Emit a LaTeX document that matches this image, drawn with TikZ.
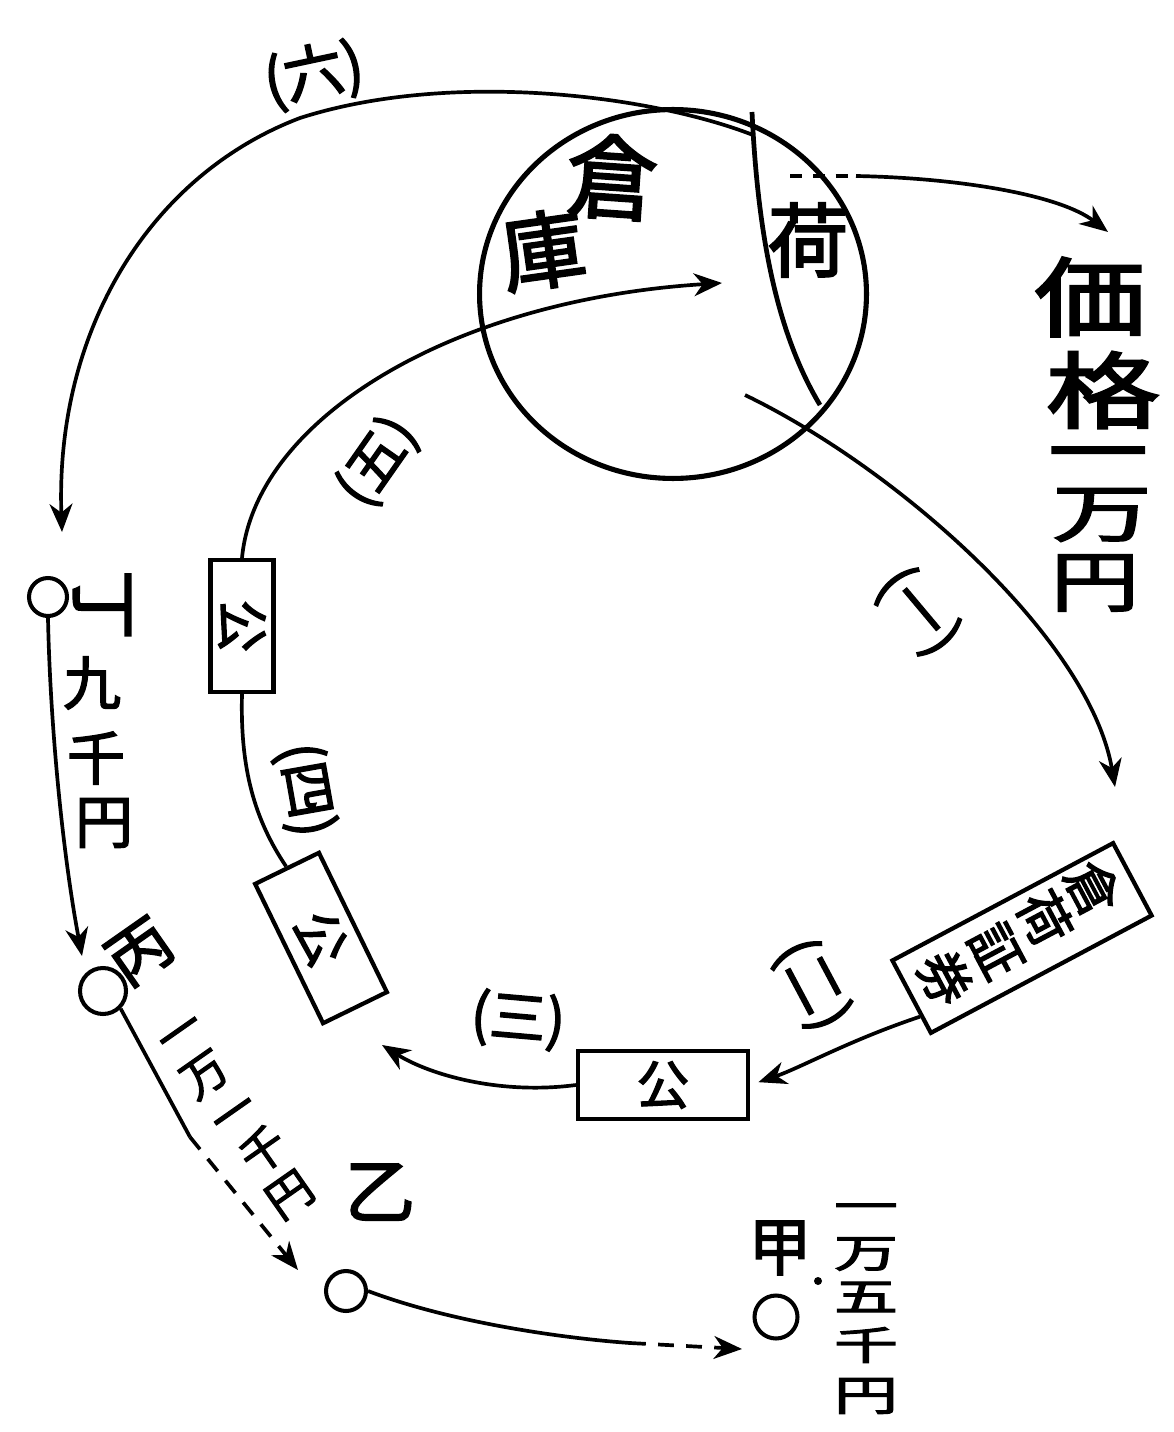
\documentclass[tikz,border=0pt]{standalone}
\usepackage{fontspec}
\usepackage{graphicx}
\newfontfamily\jp{Noto Sans CJK JP}[FakeBold=2.5]
\usetikzlibrary{arrows.meta,shapes.geometric,calc}
\begin{document}
\begin{tikzpicture}[x=0.02cm,y=-0.02cm,
  ln/.style={line width=2.1pt},
  arr/.style={ln,-{Stealth[length=16pt,width=13pt,inset=5pt]}},
  fs/.style={font=\jp\fontsize{#1}{#1}\selectfont, inner sep=0pt},
  boxx/.style={draw, line width=2.4pt, inner sep=0pt},
  ptc/.style={draw, circle, line width=2.3pt, inner sep=0pt},
  brk/.style={dash pattern=on 9pt off 7pt}
]
\useasboundingbox (0,0) rectangle (1173,1432);

% warehouse circle and lens
\node[draw, ellipse, line width=2.9pt, minimum width=7.74cm, minimum height=7.38cm, inner sep=0pt] (ware) at (673,294) {};
\coordinate (lensA) at (752,112);
\coordinate (lensB) at (820,405);
\draw[line width=2.7pt] (lensA) .. controls (758,240) and (778,335) .. (lensB);

\node[fs=52, rotate=-4] (sou) at (612,177) {倉};
\node[fs=48, rotate=8] (ko) at (543,250) {庫};
\node[fs=46] (ni) at (808,240) {荷};

% price column
\node[fs=52] (k1) at (1090,297) {\scalebox{1.22}[0.95]{価}};
\node[fs=50] (k2) at (1103,390) {\scalebox{1.3}[0.95]{格}};
\node[fs=42] (k3) at (1098,463) {\scalebox{1.35}[1]{一}};
\node[fs=42] (k4) at (1102,515) {\scalebox{1.35}[0.85]{万}};
\node[fs=42] (k5) at (1095,583) {\scalebox{1.2}[0.9]{円}};

% arrow to price
\coordinate (n0) at (790,176);
\coordinate (n1) at (856,176);
\coordinate (tk) at (1108,232);
\draw[ln, dash pattern=on 7pt off 6pt] (n0) -- (n1);
\draw[arr] (n1) .. controls (960,178) and (1060,195) .. (tk);

% (一)
\coordinate (a1) at (745,395);
\coordinate (t1) at (1115,787);
\draw[arr] (a1) .. controls (900,470) and (1090,640) .. (t1);
\node[fs=32, rotate=-50] (l1) at (918,612) {(一)};

% warehouse receipt box
\node[boxx, rotate=28, minimum width=5.0cm, minimum height=1.64cm] (kb) at (1022,938) {};
\node[fs=30, rotate=-62] (kb1) at (1093,888) {倉};
\node[fs=30, rotate=-62] (kb2) at (1045,918) {荷};
\node[fs=30, rotate=-62] (kb3) at (996,951) {証};
\node[fs=30, rotate=-62] (kb4) at (945,978) {券};

% 公 box
\node[boxx, minimum width=3.4cm, minimum height=1.36cm] (pb) at (663,1085) {};
\node[fs=30] (pbt) at (663,1085) {公};

% (二)
\draw[arr, shorten >=5pt] ($(kb.west)!0.5!(kb.south west)$) .. controls (850,1040) and (800,1068) .. (pb.east);
\node[fs=32, rotate=-62] (l2) at (812,985) {(二)};

% (三)
\coordinate (t3) at (382,1045);
\draw[arr] (pb.west) .. controls (500,1095) and (430,1075) .. (t3);
\node[fs=32, rotate=-5] (l3) at (518,1020) {(三)};

% box 3
\node[boxx, rotate=26, minimum width=1.42cm, minimum height=3.1cm] (b3) at (321,938) {};
\node[fs=30, rotate=-64] (b3t) at (321,938) {公};

% box 4
\node[boxx, minimum width=1.26cm, minimum height=2.64cm] (b4) at (242,626) {};
\node[fs=30, rotate=-90] (b4t) at (242,626) {公};

% (四)
\draw[ln] (b3.north) .. controls (255,820) and (240,770) .. (b4.south);
\node[fs=32, rotate=-80] (l4) at (305,790) {(四)};

% (五)
\coordinate (t5) at (722,283);
\draw[arr] (b4.north) .. controls (255,420) and (450,300) .. (t5);
\node[fs=32, rotate=55] (l5) at (378,462) {(五)};

% (六)
\coordinate (six0) at (753,135);
\coordinate (t6) at (62,532);
\draw[arr] (six0) .. controls (650,95) and (450,70) .. (300,118) .. controls (150,175) and (55,330) .. (t6);
\node[fs=34, rotate=12] (l6) at (314,75) {(六)};

% 丁
\node[ptc, minimum size=0.76cm] (ding) at (48,597) {};
\node[fs=40, rotate=-90] (dingl) at (102,605) {丁};
\node[fs=33] (d1) at (92,683) {九};
\node[fs=33] (d2) at (96,758) {千};
\node[fs=33] (d3) at (104,823) {円};
\coordinate (t7) at (82,956);
\draw[arr] (ding.south) .. controls (50,720) and (62,850) .. (t7);

% 丙
\node[ptc, minimum size=0.92cm] (bing) at (103,991) {};
\node[fs=36, rotate=35] (bingl) at (140,952) {丙};
\coordinate (m1) at (190,1137);
\coordinate (t8) at (298,1270);
\draw[ln] (bing.south east) -- (m1);
\draw[arr, brk] (m1) -- (t8);
\node[fs=26, rotate=35] (p1) at (183,1037) {一};
\node[fs=26, rotate=35] (p2) at (205,1075) {万};
\node[fs=26, rotate=35] (p3) at (237,1118) {一};
\node[fs=26, rotate=35] (p4) at (263,1150) {千};
\node[fs=26, rotate=35] (p5) at (290,1195) {円};

% 乙
\node[fs=40] (otsul) at (380,1192) {乙};
\node[ptc, minimum size=0.8cm] (otsu) at (346,1291) {};
\coordinate (m2) at (630,1343);
\coordinate (t9) at (742,1349);
\draw[ln] (otsu.east) .. controls (450,1322) and (560,1338) .. (m2);
\draw[arr, brk] (m2) -- (t9);

% 甲
\node[fs=36] (koul) at (780,1248) {甲};
\node[ptc, minimum size=0.86cm] (kou) at (776,1317) {};
\fill (818,1281) circle [radius=4];
\node[fs=28] (q1) at (866,1212) {\scalebox{1.3}[0.8]{一}};
\node[fs=28] (q2) at (866,1254) {\scalebox{1.3}[0.8]{万}};
\node[fs=28] (q3) at (866,1297) {\scalebox{1.3}[0.8]{五}};
\node[fs=28] (q4) at (866,1345) {\scalebox{1.3}[0.8]{千}};
\node[fs=28] (q5) at (866,1396) {\scalebox{1.3}[0.85]{円}};
\end{tikzpicture}
\end{document}
